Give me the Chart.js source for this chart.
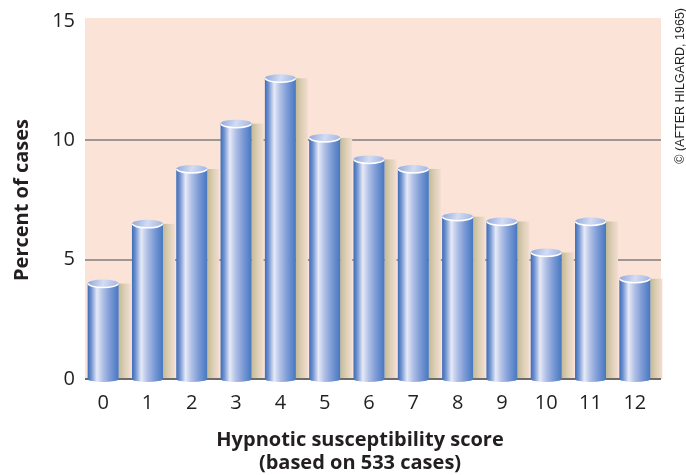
<!DOCTYPE html>
<html>
<head>
<meta charset="utf-8">
<script src="https://cdn.jsdelivr.net/npm/chart.js@4"></script>
<style>
  html, body { margin: 0; padding: 0; background: #fff; }
  canvas { display: block; }
</style>
</head>
<body>
<canvas id="chart" width="686" height="475"></canvas>
<script>
// Hypnotic susceptibility distribution (after Hilgard, 1965)
const scores = ['0', '1', '2', '3', '4', '5', '6', '7', '8', '9', '10', '11', '12'];
const percentOfCases = [4.0, 6.5, 8.8, 10.7, 12.6, 10.1, 9.2, 8.8, 6.8, 6.6, 5.3, 6.6, 4.2];
const yTicks = [0, 5, 10, 15];
const gridValues = [5, 10];
const xTitle = ['Hypnotic susceptibility score', '(based on 533 cases)'];
const yTitle = 'Percent of cases';
const credit = '\u00A9 (AFTER HILGARD, 1965)';

const INK = '#231f20';

// pink panel, grid, drop shadows and baseline go under the bars
const cylinders = {
  id: 'cylinders',
  beforeDatasetsDraw(chart) {
    const { ctx, chartArea: a, scales: { y } } = chart;
    const left = a.left + 4, right = a.right + 4;
    const bars = chart.getDatasetMeta(0).data;
    ctx.save();
    ctx.fillStyle = '#fce3d7';
    ctx.fillRect(left, a.top - 3, right - left, a.bottom - a.top + 3);

    ctx.strokeStyle = '#9d9896';
    ctx.lineWidth = 2;
    gridValues.forEach(v => {
      const py = Math.round(y.getPixelForValue(v));
      ctx.beginPath(); ctx.moveTo(left, py); ctx.lineTo(right, py); ctx.stroke();
    });

    bars.forEach(bar => {
      const { x, y: top, base, width } = bar.getProps(['x', 'y', 'base', 'width'], true);
      const sx = x + width / 2;
      const g = ctx.createLinearGradient(sx, 0, sx + 12, 0);
      g.addColorStop(0, '#c3ba96');
      g.addColorStop(0.5, '#ddcfb6');
      g.addColorStop(1, '#f3ddd0');
      ctx.fillStyle = g;
      ctx.fillRect(sx, top, 12, base - top);
    });

    ctx.strokeStyle = '#6f6b6a';
    ctx.lineWidth = 2;
    ctx.beginPath(); ctx.moveTo(left, a.bottom); ctx.lineTo(right, a.bottom); ctx.stroke();
    ctx.restore();
  },
  afterDatasetsDraw(chart) {
    const { ctx } = chart;
    ctx.save();
    chart.getDatasetMeta(0).data.forEach(bar => {
      const { x, y: top, base, width } = bar.getProps(['x', 'y', 'base', 'width'], true);
      const rx = width / 2, l = x - rx, r = x + rx;

      const body = ctx.createLinearGradient(l, 0, r, 0);
      body.addColorStop(0, '#3c6bb6');
      body.addColorStop(0.12, '#7294d2');
      body.addColorStop(0.3, '#e6eaf7');
      body.addColorStop(0.48, '#b3c2e7');
      body.addColorStop(0.72, '#7d9bd6');
      body.addColorStop(1, '#4677c1');
      ctx.fillStyle = body;
      ctx.beginPath();
      ctx.moveTo(l, top);
      ctx.lineTo(l, base);
      ctx.ellipse(x, base, rx, 3, 0, Math.PI, 0, true);
      ctx.lineTo(r, top);
      ctx.closePath();
      ctx.fill();

      const cap = ctx.createLinearGradient(l, top - 4, r, top + 4);
      cap.addColorStop(0, '#8ea7dc');
      cap.addColorStop(0.5, '#d3dcf2');
      cap.addColorStop(1, '#9fb3e2');
      ctx.fillStyle = cap;
      ctx.beginPath();
      ctx.ellipse(x, top, rx, 4, 0, 0, Math.PI * 2);
      ctx.fill();

      ctx.strokeStyle = '#ffffff';
      ctx.lineWidth = 1.5;
      ctx.beginPath();
      ctx.ellipse(x, top, rx - 0.5, 4, 0, 0, Math.PI);
      ctx.stroke();
    });
    ctx.restore();
  },
  afterDraw(chart) {
    const { ctx } = chart;
    ctx.save();
    // x-axis title sits a little left of the plot centre in the original
    ctx.fillStyle = INK;
    ctx.font = 'bold 20px "Open Sans", sans-serif';
    ctx.textAlign = 'center';
    ctx.textBaseline = 'middle';
    xTitle.forEach((line, i) => ctx.fillText(line, 360, 440 + i * 23));

    ctx.translate(681, 8);
    ctx.rotate(-Math.PI / 2);
    ctx.font = '12.5px "Liberation Sans", Arial, sans-serif';
    ctx.textAlign = 'right';
    ctx.fillText(credit, 0, 0);
    ctx.restore();
  }
};

new Chart(document.getElementById('chart'), {
  type: 'bar',
  data: {
    labels: scores,
    datasets: [{
      data: percentOfCases,
      backgroundColor: 'rgba(0,0,0,0)',
      borderWidth: 0,
      barPercentage: 0.7,
      categoryPercentage: 1.0,
    }],
  },
  options: {
    responsive: false,
    animation: false,
    devicePixelRatio: 1,
    layout: { padding: { left: 0, right: 29, top: 21, bottom: 0 } },
    plugins: { legend: { display: false }, tooltip: { enabled: false } },
    scales: {
      x: {
        grid: { display: false, drawTicks: false },
        border: { display: false },
        ticks: { color: INK, padding: 12, font: { family: '"Open Sans"', size: 20 } },
        afterFit: s => { s.height = 96; },
      },
      y: {
        min: 0, max: 15,
        grid: { display: false, drawTicks: false },
        border: { display: false },
        afterBuildTicks: s => { s.ticks = yTicks.map(v => ({ value: v })); },
        ticks: { color: INK, padding: 6, font: { family: '"Open Sans"', size: 20 } },
        title: {
          display: true, text: yTitle, color: INK,
          font: { family: '"Open Sans"', size: 20, weight: 'bold', lineHeight: 1.2 },
          padding: { top: 10, bottom: 0 },
        },
        afterFit: s => { s.width = 81; },
      },
    },
  },
  plugins: [cylinders],
});
</script>
</body>
</html>
